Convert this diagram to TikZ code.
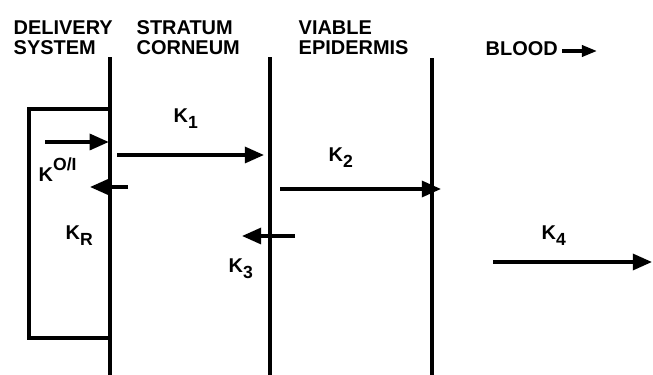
\documentclass[tikz,border=0pt]{standalone}
\usepackage{fontspec}
\setmainfont{Liberation Sans}
\usetikzlibrary{arrows.meta}
\newcommand{\ksub}[1]{\raisebox{-4pt}{\fontsize{12.5}{12.5}\selectfont #1}}
\newcommand{\ksup}[1]{\raisebox{8pt}{\fontsize{12.5}{12.5}\selectfont #1}}
\begin{document}
\begin{tikzpicture}[line width=2.4pt, x=1cm, y=1cm,
  flux/.style={-{Triangle[length=0.48cm,width=0.4cm]}},
  head/.style={anchor=base west, inner sep=0pt, align=left, font=\fontsize{14.2}{14.9}\selectfont\bfseries},
  rate/.style={anchor=base west, inner sep=0pt, font=\fontsize{14.2}{15}\selectfont\bfseries}]
  \useasboundingbox (0,0) rectangle (16.325,9.375);
  \foreach \xm/\yt/\nm in {2.75/7.95/mA, 6.75/7.95/mB, 10.8/7.925/mC}{
    \draw (\xm,0) coordinate (\nm-bot) -- (\xm,\yt) coordinate (\nm-top);
  }
  \draw (2.75,6.65) -- (0.725,6.65) -- (0.725,0.925) -- (2.75,0.925);
  \foreach \nm/\xa/\xb/\ya in {kin/1.125/2.72/5.825, kout/3.2/2.25/4.7, kA/2.925/6.6/5.5,
      kB/7.0/11.025/4.65, kC/7.375/6.05/3.475, kD/12.325/16.3/2.825}{
    \coordinate (\nm-s) at (\xa,\ya);
    \coordinate (\nm-e) at (\xb,\ya);
    \draw[flux] (\nm-s) -- (\nm-e);
  }
  \node[head] (deliv) at (0.3,8.0) {DELIVERY\\SYSTEM};
  \node[head] (strat) at (3.375,8.0) {STRATUM\\CORNEUM};
  \node[head] (viab) at (7.425,8.0) {VIABLE\\EPIDERMIS};
  \node[head] (blood) at (12.1,7.975) {BLOOD};
  \coordinate (bl-s) at (14.05,8.1);
  \coordinate (bl-e) at (14.925,8.1);
  \draw[-{Triangle[length=0.38cm,width=0.28cm]}] (bl-s) -- (bl-e);
  \node[rate] (rA) at (4.3,6.3) {K\ksub{1}};
  \node[rate] (rOI) at (0.925,4.825) {K\ksup{O/I}};
  \node[rate] (rR) at (1.6,3.375) {K\ksub{R}};
  \node[rate] (rB) at (8.175,5.325) {K\ksub{2}};
  \node[rate] (rC) at (5.675,2.55) {K\ksub{3}};
  \node[rate] (rD) at (13.5,3.375) {K\ksub{4}};
\end{tikzpicture}
\end{document}
